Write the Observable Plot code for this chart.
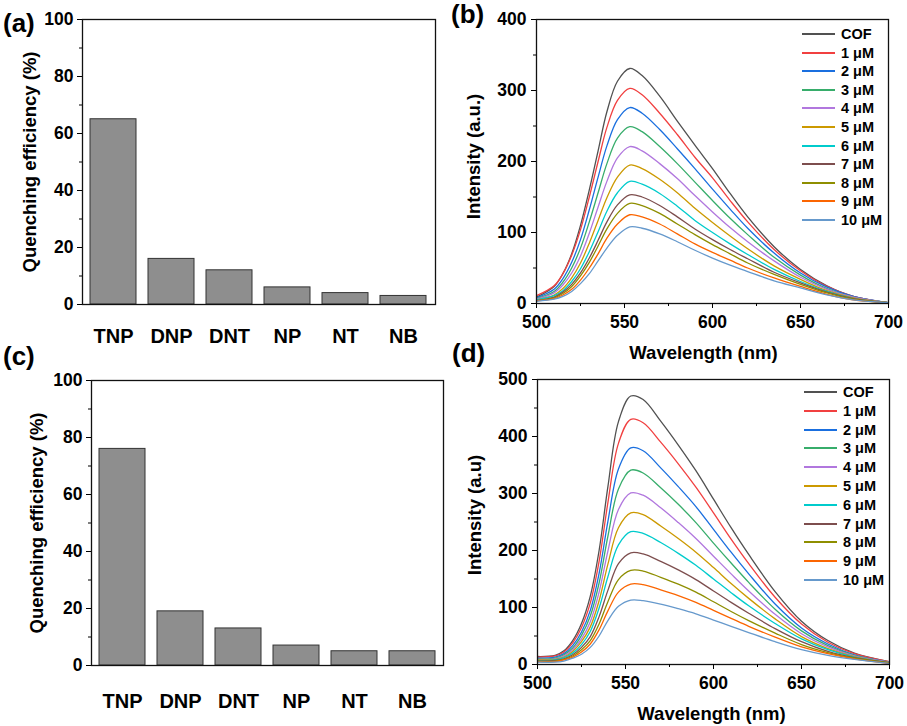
<!DOCTYPE html>
<html><head><meta charset="utf-8">
<script src="https://cdn.jsdelivr.net/npm/d3@7"></script>
<script src="https://cdn.jsdelivr.net/npm/@observablehq/plot@0.6"></script>
<style>
html,body{margin:0;padding:0;background:#fff;}
#root{position:relative;width:907px;height:726px;font-family:"Liberation Sans",Arial,sans-serif;font-weight:bold;color:#000;overflow:hidden;}
.panel{position:absolute;}
.panel svg{display:block;overflow:visible;}
.plabel{position:absolute;font-size:26px;line-height:1;white-space:nowrap;}
.legend{position:absolute;font-size:14.5px;}
.legend .row{display:flex;align-items:center;white-space:nowrap;}
.legend .sw{width:33px;height:2px;margin-right:6px;}
</style></head><body><div id="root"></div>
<script>
// ---------- data ----------
const analytes = ["TNP", "DNP", "DNT", "NP", "NT", "NB"];
const quenchA = [65, 16, 12, 6, 4, 3];
const quenchC = [76, 19, 13, 7, 5, 5];

const seriesNames = ["COF", "1 μM", "2 μM", "3 μM", "4 μM", "5 μM", "6 μM", "7 μM", "8 μM", "9 μM", "10 μM"];
const colors = ["#515151", "#F14040", "#1A6FDF", "#37AD6B", "#B177DE", "#CC9900", "#00CBCC", "#7D4E4E", "#8E8E00", "#FB6501", "#6699CC"];

const wavelengths = [500, 510, 515, 520, 525, 530, 535, 540, 546, 553, 560, 570, 580, 590, 600, 610, 620, 635, 650, 665, 680, 700];

// panel (b)
const bCOF = [9, 24, 42, 70, 110, 160, 215, 270, 313, 331, 321, 292, 257, 223, 190, 155, 122, 80, 48, 25, 10, 1];
const b1 = [11, 25, 42, 68, 104, 150, 200, 248, 286, 303, 294, 268, 238, 206, 177, 145, 115, 76, 46, 24, 10, 1];
const b2 = [8, 20, 35, 58, 90, 132, 178, 222, 259, 276, 268, 245, 218, 190, 161, 133, 106, 71, 43, 23, 10, 1];
const b3 = [7, 17, 30, 50, 78, 115, 156, 197, 233, 249, 242, 221, 197, 171, 145, 120, 97, 65, 40, 21, 9, 1];
const b4 = [6, 15, 26, 43, 67, 99, 136, 172, 205, 221, 215, 197, 176, 152, 129, 107, 87, 60, 37, 20, 9, 1];
const b5 = [5, 12, 21, 36, 57, 85, 117, 149, 178, 195, 190, 175, 156, 134, 114, 95, 77, 53, 34, 18, 8, 1];
const b6 = [5, 11, 18, 31, 49, 73, 101, 130, 156, 172, 168, 155, 137, 117, 100, 84, 69, 48, 31, 17, 7, 1];
const b7 = [4, 9, 16, 27, 43, 64, 89, 115, 139, 153, 150, 138, 122, 105, 90, 76, 63, 44, 29, 16, 7, 1];
const b8 = [4, 8, 14, 24, 39, 58, 81, 105, 127, 141, 138, 127, 112, 97, 83, 70, 57, 41, 27, 15, 6, 1];
const b9 = [4, 7, 12, 20, 33, 50, 70, 92, 112, 125, 122, 112, 98, 84, 72, 61, 50, 36, 24, 13, 5, 1];
const b10 = [3, 6, 10, 17, 28, 42, 60, 78, 96, 108, 106, 98, 87, 75, 64, 54, 45, 32, 22, 12, 5, 1];

// panel (d)
const dCOF = [14, 16, 24, 42, 72, 120, 200, 312, 426, 471, 465, 427, 385, 340, 290, 240, 193, 128, 76, 42, 20, 5];
const d1 = [13, 15, 22, 38, 65, 108, 181, 284, 388, 430, 424, 390, 352, 311, 266, 220, 177, 118, 71, 39, 19, 5];
const d2 = [11, 13, 19, 33, 57, 95, 160, 251, 343, 380, 375, 345, 312, 277, 237, 197, 159, 106, 64, 36, 17, 4];
const d3 = [10, 11, 17, 29, 51, 85, 143, 225, 308, 341, 336, 310, 281, 249, 213, 178, 144, 97, 59, 33, 16, 4];
const d4 = [9, 10, 15, 26, 45, 75, 127, 199, 272, 301, 297, 275, 249, 221, 190, 159, 129, 88, 54, 31, 15, 4];
const d5 = [8, 9, 13, 23, 40, 66, 112, 176, 240, 266, 263, 243, 221, 197, 170, 142, 116, 80, 49, 28, 14, 3];
const d6 = [7, 8, 12, 20, 35, 58, 99, 154, 210, 233, 230, 214, 195, 174, 150, 126, 103, 72, 45, 26, 13, 3];
const d7 = [6, 7, 10, 17, 30, 49, 84, 130, 177, 196, 194, 181, 166, 149, 129, 109, 90, 63, 40, 23, 12, 3];
const d8 = [6, 6, 9, 15, 26, 42, 71, 110, 149, 165, 164, 153, 141, 127, 110, 93, 77, 55, 35, 21, 11, 3];
const d9 = [5, 5, 8, 13, 22, 36, 61, 94, 127, 141, 140, 131, 121, 109, 95, 81, 67, 48, 31, 19, 10, 2];
const d10 = [4, 4, 6, 11, 18, 30, 50, 77, 102, 113, 112, 106, 98, 89, 78, 67, 56, 40, 26, 16, 9, 2];

const seriesB = [bCOF, b1, b2, b3, b4, b5, b6, b7, b8, b9, b10];
const seriesD = [dCOF, d1, d2, d3, d4, d5, d6, d7, d8, d9, d10];

const barTicks = [0, 20, 40, 60, 80, 100];
const barMinor = [10, 30, 50, 70, 90];
const wlTicks = [500, 550, 600, 650, 700];
const wlMinor = [525, 575, 625, 675];
const bTicks = [0, 100, 200, 300, 400];
const bMinor = [50, 150, 250, 350];
const dTicks = [0, 100, 200, 300, 400, 500];
const dMinor = [50, 150, 250, 350, 450];

// ---------- drawing ----------
const FONT = '"Liberation Sans", Arial, sans-serif';
const root = document.getElementById("root");

function place(el, left, top) {
  const d = document.createElement("div");
  d.className = "panel";
  d.style.left = left + "px";
  d.style.top = top + "px";
  d.appendChild(el);
  root.appendChild(d);
}

function barPanel(values, g) {
  const data = analytes.map((a, i) => ({analyte: a, value: values[i]}));
  return Plot.plot({
    width: g.w, height: g.h,
    marginLeft: g.ml, marginRight: g.mr, marginTop: g.mt, marginBottom: g.mb,
    style: {fontFamily: FONT, fontWeight: "bold", background: "transparent", color: "#000"},
    x: {domain: analytes, paddingInner: 0.2, paddingOuter: 0.1, label: null},
    y: {domain: [0, 100], label: null},
    marks: [
      Plot.barY(data, {x: "analyte", y: "value", fill: "#8e8e8e", stroke: "#333", strokeWidth: 1}),
      Plot.frame({stroke: "#111", strokeWidth: 1.3}),
      Plot.axisY(barMinor, {tickSize: 3, tickFormat: () => "", label: null}),
      Plot.axisY(barTicks, {tickSize: 5, tickPadding: 4, fontSize: 17.5, fontWeight: "bold", label: null}),
      Plot.axisX({tickSize: 0, tickPadding: g.catPad, fontSize: 20, fontWeight: "bold", label: null}),
      Plot.text(["Quenching efficiency (%)"], {text: d => d, frameAnchor: "left", textAnchor: "middle", lineAnchor: "middle",
        dx: g.titleDx, rotate: -90, fontSize: 18.5, fontWeight: "bold"})
    ]
  });
}

function specPanel(series, g) {
  const data = [];
  series.forEach((arr, s) => arr.forEach((v, i) => data.push({series: seriesNames[s], w: wavelengths[i], v})));
  return Plot.plot({
    width: g.w, height: g.h,
    marginLeft: g.ml, marginRight: g.mr, marginTop: g.mt, marginBottom: g.mb,
    style: {fontFamily: FONT, fontWeight: "bold", background: "transparent", color: "#000"},
    x: {domain: [500, 700], label: null},
    y: {domain: [0, g.ymax], label: null},
    color: {domain: seriesNames, range: colors},
    marks: [
      Plot.line(data, {x: "w", y: "v", z: "series", stroke: "series", strokeWidth: 1.3, curve: "catmull-rom", clip: true}),
      Plot.frame({stroke: "#111", strokeWidth: 1.3}),
      Plot.axisY(g.minor, {tickSize: 3, tickFormat: () => "", label: null}),
      Plot.axisY(g.ticks, {tickSize: 5, tickPadding: 5, fontSize: 17.5, fontWeight: "bold", label: null}),
      Plot.axisX(wlMinor, {tickSize: 3, tickFormat: () => "", label: null}),
      Plot.axisX(wlTicks, {tickSize: 5, tickPadding: 7, fontSize: 17.5, fontWeight: "bold", label: null}),
      Plot.text([g.ytitle], {text: d => d, frameAnchor: "left", textAnchor: "middle", lineAnchor: "middle",
        dx: g.ytDx, dy: g.ytDy, rotate: -90, fontSize: 18.5, fontWeight: "bold"}),
      Plot.text(["Wavelength (nm)"], {text: d => d, frameAnchor: "bottom", textAnchor: "middle", lineAnchor: "middle",
        dx: g.xtDx, dy: g.xtDy, fontSize: 18.5, fontWeight: "bold"})
    ]
  });
}

function legend(left, top, rowH) {
  const L = document.createElement("div");
  L.className = "legend";
  L.style.left = left + "px";
  L.style.top = top + "px";
  seriesNames.forEach((name, i) => {
    const r = document.createElement("div");
    r.className = "row";
    r.style.height = rowH + "px";
    const sw = document.createElement("span");
    sw.className = "sw";
    sw.style.background = colors[i];
    const t = document.createElement("span");
    t.textContent = name;
    r.appendChild(sw); r.appendChild(t);
    L.appendChild(r);
  });
  root.appendChild(L);
}

function panelLabel(txt, left, top) {
  const d = document.createElement("div");
  d.className = "plabel";
  d.style.left = left + "px";
  d.style.top = top + "px";
  d.textContent = txt;
  root.appendChild(d);
}

place(barPanel(quenchA, {w: 450, h: 363, ml: 82, mr: 15, mt: 19, mb: 59, catPad: 24, titleDx: -52}), 0, 0);
place(barPanel(quenchC, {w: 450, h: 363, ml: 91, mr: 7, mt: 17, mb: 61, catPad: 28, titleDx: -54}), 0, 363);
place(specPanel(seriesB, {w: 457, h: 363, ml: 86, mr: 19, mt: 19, mb: 60, ymax: 400, ticks: bTicks, minor: bMinor,
  ytitle: "Intensity (a.u.)", ytDx: -62, ytDy: -5, xtDx: -9, xtDy: 50}), 450, 0);
place(specPanel(seriesD, {w: 457, h: 363, ml: 87, mr: 18, mt: 16, mb: 62, ymax: 500, ticks: dTicks, minor: dMinor,
  ytitle: "Intensity (a.u)", ytDx: -62, ytDy: -7, xtDx: -2, xtDy: 49.5}), 450, 363);

legend(802, 24.7, 18.6);
legend(804, 382.6, 18.8);

panelLabel("(a)", 3, 10);
panelLabel("(b)", 451, 1);
panelLabel("(c)", 3, 343);
panelLabel("(d)", 452, 340);
</script>
</body></html>
